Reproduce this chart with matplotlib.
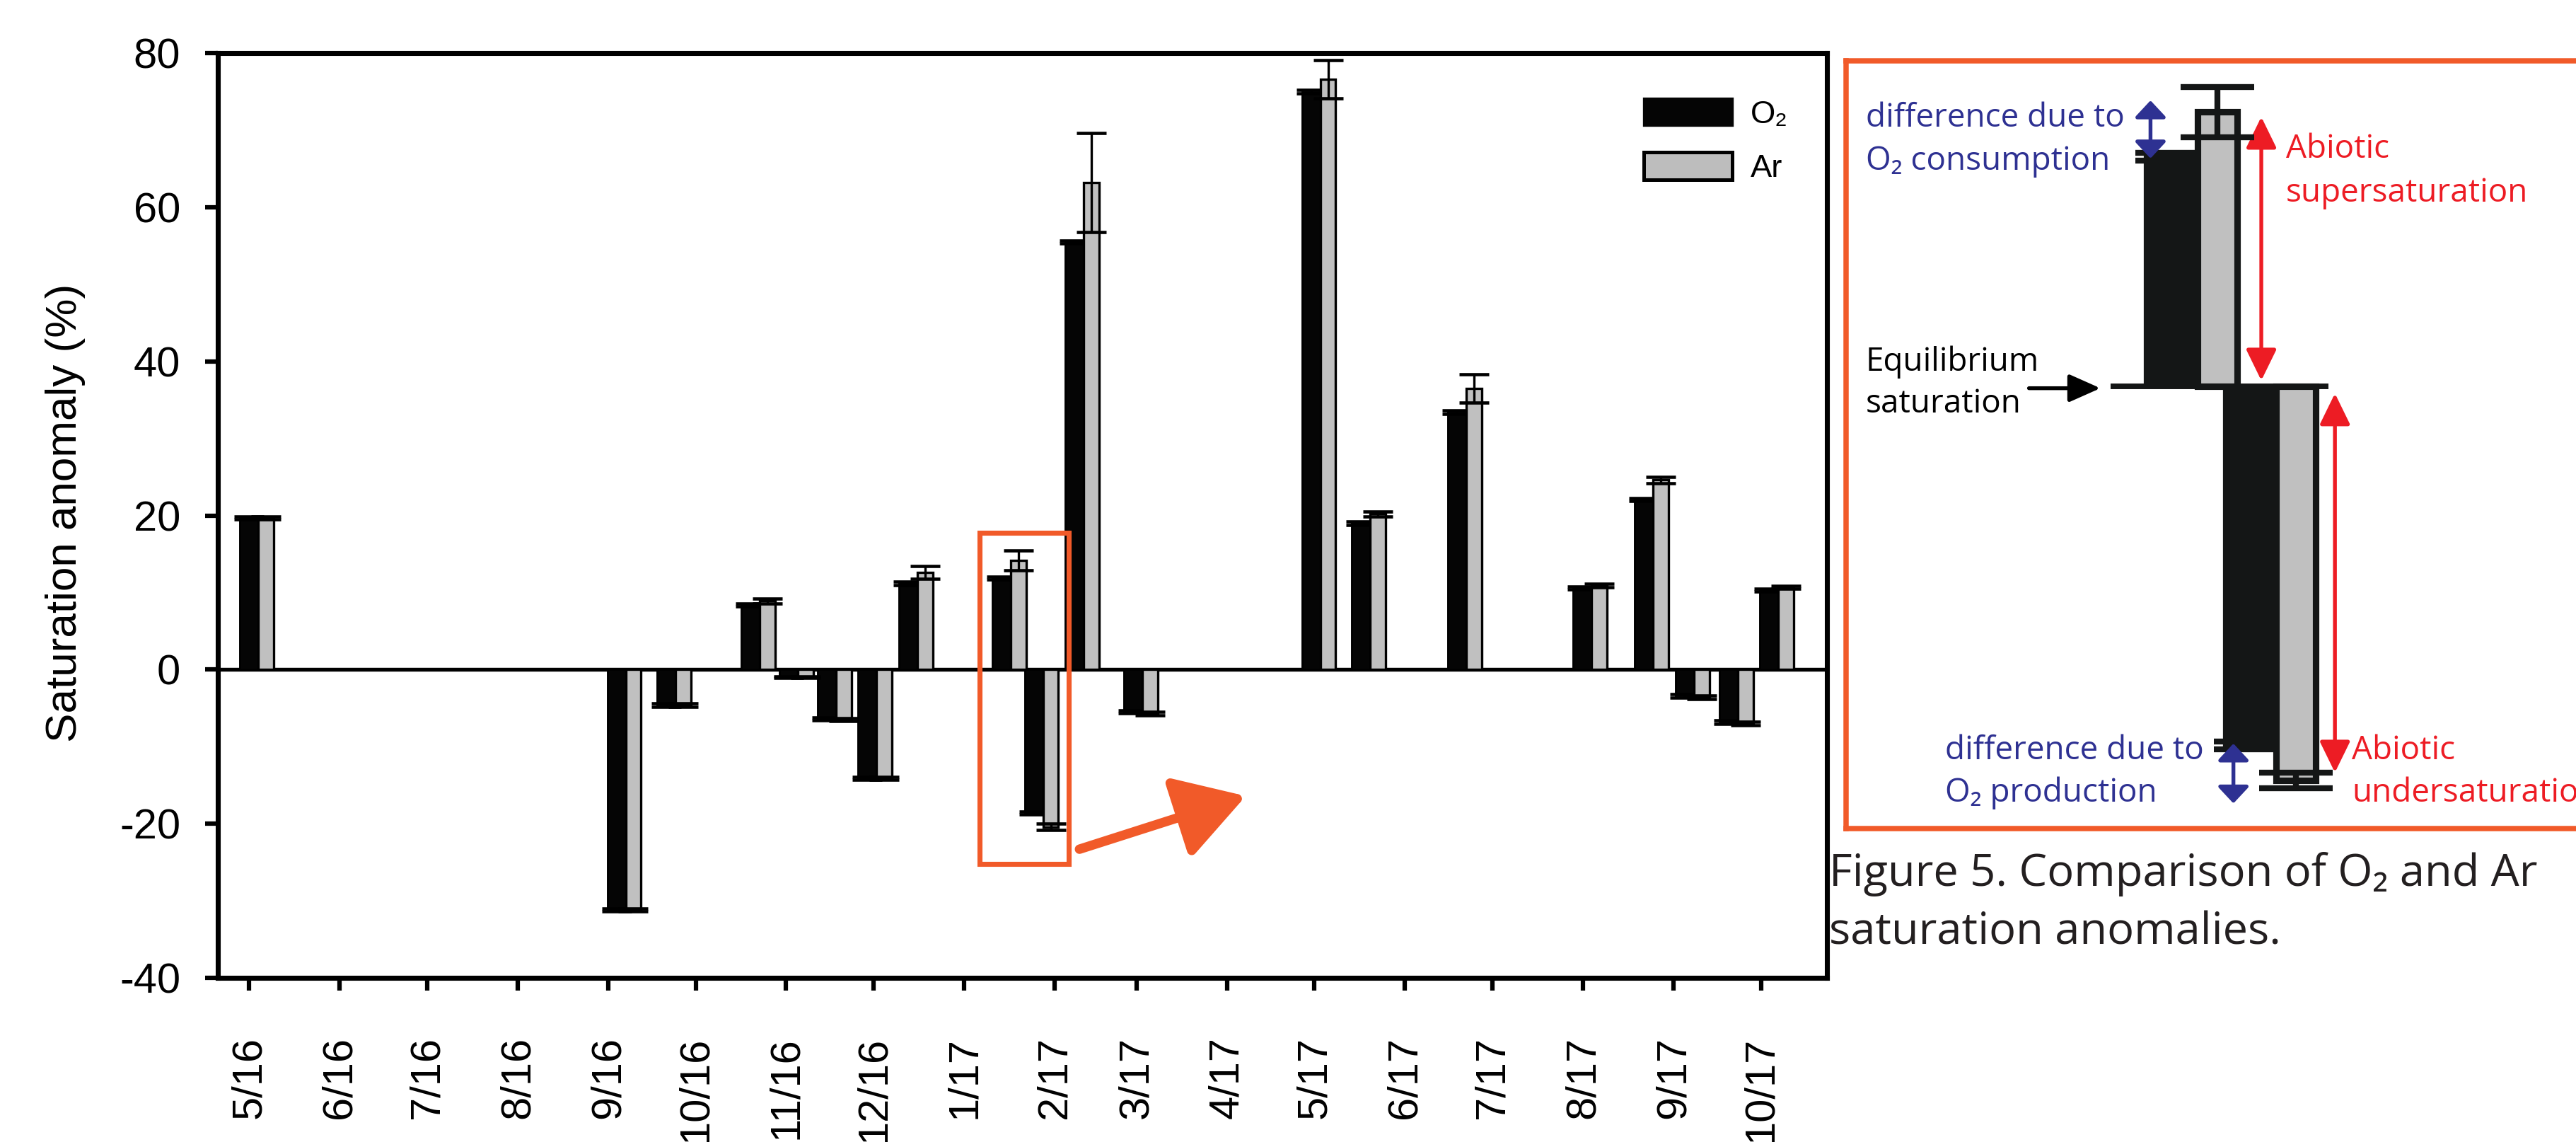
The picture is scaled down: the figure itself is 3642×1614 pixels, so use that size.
import matplotlib
matplotlib.use('Agg')
import matplotlib.pyplot as plt
import matplotlib.dates as mdates
from matplotlib.patches import Patch, Rectangle

plt.rcParams['font.family'] = ['Liberation Sans', 'DejaVu Sans']
plt.rcParams['axes.unicode_minus'] = False

# sampling dates and saturation anomalies (%)
dates = ['2016-05-04', '2016-09-07', '2016-09-24', '2016-10-23', '2016-11-05',
         '2016-11-18', '2016-12-02', '2016-12-16', '2017-01-17', '2017-01-28',
         '2017-02-11', '2017-03-03', '2017-05-03', '2017-05-20', '2017-06-22',
         '2017-08-04', '2017-08-25', '2017-09-08', '2017-09-23', '2017-10-07']
o2 = [19.7, -31.2, -4.6, 8.4, -1.0, -6.4, -14.1, 11.2, 11.9, -18.6,
      55.5, -5.5, 75.0, 19.0, 33.4, 10.6, 22.1, -3.4, -6.8, 10.3]
ar = [19.7, -31.2, -4.6, 8.9, -1.0, -6.5, -14.1, 12.6, 14.2, -20.4,
      63.2, -5.7, 76.6, 20.2, 36.5, 10.9, 24.6, -3.6, -7.0, 10.7]
o2_err = [0.2, 0.2, 0.2, 0.2, 0.1, 0.2, 0.2, 0.2, 0.2, 0.2,
          0.2, 0.2, 0.2, 0.2, 0.2, 0.2, 0.2, 0.2, 0.2, 0.2]
ar_err = [0.2, 0.2, 0.2, 0.3, 0.1, 0.2, 0.2, 0.85, 1.3, 0.4,
          6.4, 0.2, 2.5, 0.35, 1.85, 0.2, 0.4, 0.2, 0.2, 0.2]

month_ticks = ['2016-05-01', '2016-06-01', '2016-07-01', '2016-08-01', '2016-09-01',
               '2016-10-01', '2016-11-01', '2016-12-01', '2017-01-01', '2017-02-01',
               '2017-03-01', '2017-04-01', '2017-05-01', '2017-06-01', '2017-07-01',
               '2017-08-01', '2017-09-01', '2017-10-01']
month_labels = ['5/16', '6/16', '7/16', '8/16', '9/16', '10/16', '11/16', '12/16', '1/17',
                '2/17', '3/17', '4/17', '5/17', '6/17', '7/17', '8/17', '9/17', '10/17']

orange = '#f15a29'
blue = '#2e3192'
red = '#ed1c24'
grey = '#c0c0c0'

x = mdates.datestr2num(dates)
base = mdates.datestr2num('2016-05-01')

fig = plt.figure(figsize=(3642 / 300, 1614 / 300), dpi=300)
ax = fig.add_axes([0.0846, 0.1437, 0.6246, 0.8098])

w_o2, w_ar = 6.3, 5.3
ax.axhline(0, color='black', lw=1.3, zorder=1)
ax.bar(x, o2, width=-w_o2, align='edge', color='#050505', edgecolor='black', lw=0.7, zorder=2)
ax.errorbar(x - w_o2 / 2, o2, yerr=o2_err, fmt='none', ecolor='black',
            elinewidth=0.8, capsize=5, capthick=1.1, zorder=2.5)
ax.bar(x, ar, width=w_ar, align='edge', color=grey, edgecolor='black', lw=0.8, zorder=3)
ax.errorbar(x + w_ar / 2, ar, yerr=ar_err, fmt='none', ecolor='black',
            elinewidth=0.8, capsize=5, capthick=1.1, zorder=3.5)

ax.set_xlim(base - 10.7, base + 540.6)
ax.set_ylim(-40, 80)
ax.set_yticks([-40, -20, 0, 20, 40, 60, 80])
ax.set_xticks(mdates.datestr2num(month_ticks))
ax.set_xticklabels(month_labels, rotation=90)
for s in ax.spines.values():
    s.set_linewidth(1.7)
ax.tick_params(axis='both', direction='out', length=4.3, width=1.5, labelsize=14.3)
ax.tick_params(axis='y', pad=8.4)
ax.tick_params(axis='x', pad=15.6)
fig.text(0.0253, 0.5508, 'Saturation anomaly (%)', rotation=90, ha='center', va='center',
         fontsize=14.9)

leg = ax.legend(handles=[Patch(facecolor='#050505', edgecolor='#050505', lw=0.8),
                         Patch(facecolor='#bdbdbd', edgecolor='black', lw=1.2)],
                labels=['O₂', 'Ar'], loc='upper left', bbox_to_anchor=(0.638, 0.914),
                bbox_transform=fig.transFigure, frameon=False, fontsize=10.9,
                handlelength=2.76, handleheight=0.92, handletextpad=0.58,
                labelspacing=0.72, borderpad=0, borderaxespad=0)

# highlight box and arrow towards the schematic
ax.add_patch(Rectangle((base + 250.3, -25.2), 30.5, 43.0, fill=False, edgecolor=orange,
                       lw=1.7, zorder=5, clip_on=False))
ax.annotate('', xy=(base + 341.5, -16.4), xytext=(base + 284.5, -23.3),
            arrowprops=dict(arrowstyle='-|>,head_length=0.5,head_width=0.3',
                            color=orange, lw=3.2, mutation_scale=40,
                            shrinkA=0, shrinkB=0))

# schematic inset: the two highlighted pairs, enlarged
ax2 = fig.add_axes([0.7166, 0.2745, 0.29, 0.6722])
c1 = x[8]
ax2.set_xlim(c1 - 49.2, c1 + 55.3)
ax2.set_ylim(-22.9, 16.85)
ax2.set_xticks([])
ax2.set_yticks([])
for s in ax2.spines.values():
    s.set_color(orange)
    s.set_linewidth(1.8)

ax2.hlines(0, c1 - 12.2, c1 + 18.3, color='#141616', lw=1.9, zorder=1)
ax2.bar(x[8:10], o2[8:10], width=-7.2, align='edge', color='#141616',
        edgecolor='#141616', lw=1.5, zorder=2)
ax2.errorbar(x[8:10] - 3.6, o2[8:10], yerr=o2_err[8:10], fmt='none', ecolor='#141616',
             elinewidth=2, capsize=12.5, capthick=2, zorder=2.5)
ax2.bar(x[8:10], ar[8:10], width=5.5, align='edge', color=grey,
        edgecolor='#141616', lw=2.2, zorder=3)
ax2.errorbar(x[8:10] + 2.75, ar[8:10], yerr=ar_err[8:10], fmt='none', ecolor='#141616',
             elinewidth=2, capsize=12.5, capthick=2, zorder=3.5)


def arrow(a, xy, xytext, color, style, ms=20):
    a.annotate('', xy=xy, xytext=xytext,
               arrowprops=dict(arrowstyle=style, color=color, lw=1.3,
                               mutation_scale=ms, shrinkA=0, shrinkB=0))


arrow(ax2, (c1 + 8.9, 13.95), (c1 + 8.9, 0.3), red, '<|-|>,head_length=0.45,head_width=0.22')
arrow(ax2, (c1 + 19.2, -20.0), (c1 + 19.2, -0.37), red, '<|-|>,head_length=0.45,head_width=0.22')
arrow(ax2, (c1 - 6.6, 14.8), (c1 - 6.6, 11.8), blue, '<|-|>,head_length=0.3,head_width=0.28', ms=16)
arrow(ax2, (c1 + 5.0, -21.6), (c1 + 5.0, -18.5), blue, '<|-|>,head_length=0.3,head_width=0.28', ms=16)
arrow(ax2, (c1 - 13.6, -0.1), (c1 - 23.6, -0.1), 'black', '-|>,head_length=0.45,head_width=0.2')

ifont = ['Open Sans', 'DejaVu Sans']
labels = [
    (0.7243, 0.8965, 'difference due to', blue),
    (0.7243, 0.8587, 'O₂ consumption', blue),
    (0.8874, 0.8693, 'Abiotic', red),
    (0.8874, 0.8309, 'supersaturation', red),
    (0.7243, 0.6828, 'Equilibrium', 'black'),
    (0.7243, 0.6462, 'saturation', 'black'),
    (0.7551, 0.3426, 'difference due to', blue),
    (0.7551, 0.3055, 'O₂ production', blue),
    (0.9130, 0.3426, 'Abiotic', red),
    (0.9130, 0.3055, 'undersaturation', red),
]
for tx, ty, s, c in labels:
    fig.text(tx, ty, s, color=c, fontsize=11.0, family=ifont, ha='left', va='center')

fig.text(0.7100, 0.2348, 'Figure 5. Comparison of O₂ and Ar', fontsize=15.2, family=ifont,
         color='#231f20', ha='left', va='center')
fig.text(0.7100, 0.1834, 'saturation anomalies.', fontsize=15.2, family=ifont,
         color='#231f20', ha='left', va='center')

fig.savefig('out.png', dpi=300)
